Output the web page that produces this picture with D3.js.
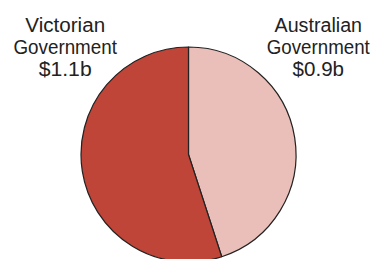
<!DOCTYPE html>
<html><head><meta charset="utf-8">
<script src="https://cdn.jsdelivr.net/npm/d3@7"></script>
<style>body{margin:0;background:#fff;}svg{display:block;}</style>
</head><body>
<script>
const categories = ["Australian Government", "Victorian Government"];
const values = [0.9, 1.1];
const valueLabels = ["$0.9b", "$1.1b"];
const colors = ["#EBBFB9", "#BE4537"];

const W = 377, H = 259;
const svg = d3.select("body").append("svg").attr("width", W).attr("height", H);
const cx = 188.5, cy = 154.5, r = 107.5;
const pie = d3.pie().sort(null).value(d => d.v);
const data = pie(categories.map((c, i) => ({c, v: values[i], i})));
const arc = d3.arc().innerRadius(0).outerRadius(r);
const g = svg.append("g").attr("transform", `translate(${cx},${cy})`);
g.selectAll("path").data(data).enter().append("path")
  .attr("d", arc).attr("fill", d => colors[d.data.i])
  .attr("stroke", "#222").attr("stroke-width", 1.2).attr("stroke-linejoin", "round");

const labelPos = [{x: 318.3, y: 31.5}, {x: 65.2, y: 31.5}];
const lineWidths = [[87.5, 103, 51.5], [79.8, 103.5, 53]];
categories.forEach((c, i) => {
  const parts = c.split(" ");
  const lines = [parts[0], parts.slice(1).join(" "), valueLabels[i]];
  const t = svg.append("text").attr("text-anchor", "middle")
    .attr("font-family", "Liberation Sans, Arial, sans-serif")
    .attr("font-size", 20).attr("fill", "#222");
  lines.forEach((l, j) => t.append("tspan")
    .attr("x", labelPos[i].x).attr("y", labelPos[i].y + j * 22.4)
    .attr("textLength", lineWidths[i][j]).attr("lengthAdjust", "spacingAndGlyphs")
    .text(l));
});
</script>
</body></html>
